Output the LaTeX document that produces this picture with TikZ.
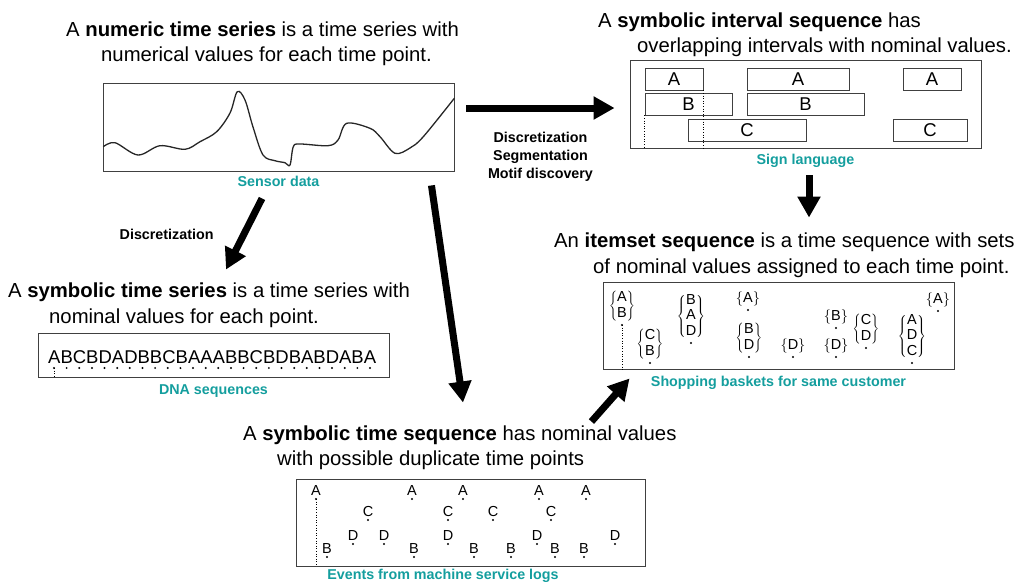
\documentclass[tikz,border=0pt]{standalone}
\usepackage{fontspec}
\setmainfont{Liberation Sans}
\usetikzlibrary{positioning,arrows.meta}

\definecolor{captionteal}{RGB}{20,158,158}

\tikzset{
	head/.style={inner sep=0pt, anchor=base west, font=\fontsize{20.3}{25}\selectfont},
	panel/.style={draw=black!75, line width=0.9pt, inner sep=0pt, minimum width=351pt},
	caption/.style={inner sep=0pt, text=captionteal, font=\fontsize{14.3}{17}\selectfont\bfseries},
	method/.style={inner sep=0pt, align=center, font=\fontsize{14.3}{18}\selectfont\bfseries},
	bigarrow/.style={line width=7pt, -{Triangle[length=21pt,width=22pt]}},
	ivl/.style={draw=black!75, line width=0.9pt, inner sep=0pt, minimum height=22pt, font=\fontsize{18.5}{20}\selectfont},
	evt/.style={inner sep=0pt, anchor=base, font=\fontsize{14.5}{16}\selectfont},
	iset/.style={inner sep=0pt, anchor=south, font=\fontsize{14.5}{15.5}\selectfont},
	tick/.style={dotted, line width=0.6pt},
}

\begin{document}
\begin{tikzpicture}[x=1pt, y=-1pt]
	\useasboundingbox (0,0) rectangle (1019,581);

	%% Numeric time series
\begin{scope}
	\node[head] (nts1) at (66,36) {A \textbf{numeric time series} is a time series with};
	\node[head] (nts2) at ([shift={(35,25)}]nts1.base west) {numerical values for each time point.};
	\node[panel, minimum height=88pt] (numbox) at (278.5,127) {};
	\node[caption, below=4pt of numbox] (cap1) {Sensor data};

	%% Sensorkurve
	\draw[line width=1.3pt, black!85] plot[smooth, tension=0.55] coordinates {
		(103.3,146.7) (115,142.7) (138,155) (160,145.7) (185,149.3) (200,141.7)
		(216.7,131.7) (230,113) (237.3,91.7) (245,100) (253,127) (263,155)
		(275,160.7) (285,162.7) (290,165) (293.3,146.7) (300,144) (328,145.7)
		(338,140) (346.7,123.3) (370,128.3) (380,136.7) (395,153.3) (410,148)
		(423.3,136.7) (454.3,98.3)};
\end{scope}

	%% Symbolic interval sequence
\begin{scope}
	\node[head] (sis1) at (598,27) {A \textbf{symbolic interval sequence} has};
	\node[head] (sis2) at ([shift={(39,25)}]sis1.base west) {overlapping intervals with nominal values.};
	\node[panel, minimum height=88pt] (ivbox) at (805.5,104) {};
	\node[caption, below=5pt of ivbox] (cap2) {Sign language};

	\foreach \x/\y/\w/\l/\n in {674/79/58/A/iva1, 798/79/102/A/iva2, 932/79/58/A/iva3,
			688.5/104/87/B/ivb1, 805.5/104/117/B/ivb2,
			747/130/118/C/ivc1, 930/130/74/C/ivc2}
		\node[ivl, minimum width=\w pt] (\n) at (\x,\y) {\l};
	\draw[tick] (iva1.south east) -- (iva1.south east |- ivbox.south);
	\draw[tick] (ivb1.south west) -- (ivb1.south west |- ivbox.south);
\end{scope}

	%% Symbolic time series
\begin{scope}
	\node[head] (sts1) at (8,297) {A \textbf{symbolic time series} is a time series with};
	\node[head] (sts2) at ([shift={(41,26)}]sts1.base west) {nominal values for each point.};
	\node[panel, minimum height=44pt] (dnabox) at (213.5,355) {};
	\node[caption, below=7pt of dnabox] (cap3) {DNA sequences};

	\node[inner sep=0pt, anchor=base west, font=\fontsize{18.5}{20}\selectfont] (dna) at (48,363) {ABCBDADBBCBAAABBCBDBABDABA};
	\foreach \i in {0,...,25}
		\fill (54+\i*12.64,368) circle (1.1pt);
	\coordinate (dna0) at (54,368);
	\draw[tick] (dna0) -- (dna0 |- dnabox.south);
\end{scope}

	%% Itemset sequence
\begin{scope}
	\node[head] (iss1) at (554,247) {An \textbf{itemset sequence} is a time sequence with sets};
	\node[head] (iss2) at ([shift={(39,26)}]iss1.base west) {of nominal values assigned to each time point.};
	\node[panel, minimum height=87pt] (isbox) at (778.5,325.5) {};
	\node[caption, below=6pt of isbox] (cap4) {Shopping baskets for same customer};

	\foreach \x/\y/\s [count=\i] in {622/322/{A\\B}, 650/360/{C\\B}, 691/340/{B\\A\\D},
			748/307/{A}, 749/354/{B\\D}, 793/354/{D}, 836/325/{B}, 836/354/{D},
			866/345/{C\\D}, 912/360/{A\\D\\C}, 938/308/{A}} {
		\node[iset] (is\i) at (\x,\y) {$\left\{\begin{tabular}{@{}c@{}}\s\end{tabular}\right\}$};
		\fill ([yshift=-3pt]is\i.south) circle (1.1pt);
	}
	\draw[tick] ([yshift=-3pt]is1.south) -- (is1.south |- isbox.south);
\end{scope}

	%% Symbolic time sequence
\begin{scope}
	\node[head] (stq1) at (243,440) {A \textbf{symbolic time sequence} has nominal values};
	\node[head] (stq2) at ([shift={(34,25)}]stq1.base west) {with possible duplicate time points};
	\node[panel, minimum width=349pt, minimum height=87pt] (evbox) at (470.5,522.5) {};
	\node[caption, below=2pt of evbox, xshift=-27.5pt] (cap5) {Events from machine service logs};

	\foreach \x/\y/\l [count=\i] in {316/495/A, 327/553/B, 353/540/D, 368/516/C, 384/540/D,
			412/495/A, 414/553/B, 448/516/C, 448/540/D, 463/495/A, 474/553/B, 493/516/C,
			511/553/B, 537/540/D, 539/495/A, 551/516/C, 555/553/B, 584/553/B, 586/495/A,
			615/540/D} {
		\node[evt] (ev\i) at (\x,\y) {\l};
		\fill ([yshift=-4pt]ev\i.base) circle (1.1pt);
	}
	\draw[tick] ([yshift=-4pt]ev1.base) -- (ev1.base |- evbox.south);
\end{scope}

	%%%%%%%%%%%%%%%%

	%% Pfeile
	\draw[bigarrow] ([shift={(12,-19)}]numbox.east) -- ([shift={(-15,4)}]ivbox.west)
		node[method, midway, below=21pt] {Discretization\\Segmentation\\Motif discovery};
	\draw[bigarrow] ([shift={(-16.5,27)}]numbox.south) -- ([shift={(12.5,-63)}]dnabox.north)
		node[method, midway, left=27pt] {Discretization};
	\draw[bigarrow] ([shift={(-23,14)}]numbox.south east) -- ([shift={(-7.5,-76)}]evbox.north);
	\draw[bigarrow] ([shift={(3.5,27)}]ivbox.south) -- ([shift={(30.5,-64)}]isbox.north);
	\draw[bigarrow] ([shift={(-54,-57)}]evbox.north east) -- ([shift={(27,9)}]isbox.south west);

\end{tikzpicture}
\end{document}
